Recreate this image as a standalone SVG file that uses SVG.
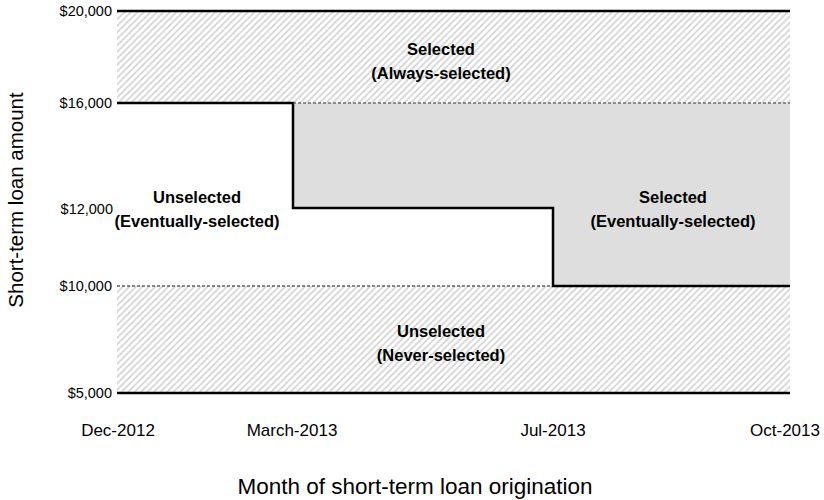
<svg xmlns="http://www.w3.org/2000/svg" width="824" height="500" viewBox="0 0 824 500">
<defs>
<pattern id="hatch" patternUnits="userSpaceOnUse" width="6.5" height="6.5">
<path d="M-1,1 L1,-1 M0,6.5 L6.5,0 M5.5,7.5 L7.5,5.5" stroke="#d2d2d2" stroke-width="1.7"/>
</pattern>
</defs>
<style>
text{font-family:"Liberation Sans",Arial,sans-serif;fill:#000}
.tick{font-size:14.5px;text-anchor:end}
.xt{font-size:17px;text-anchor:middle}
.lbl{font-size:16.5px;font-weight:bold;text-anchor:middle}
.title{font-size:22.5px;text-anchor:middle}
.ytitle{font-size:20.5px;text-anchor:middle}
.thick{stroke:#000;stroke-width:2.5;fill:none}
.dash{stroke:#333;stroke-width:1;stroke-dasharray:3,2;fill:none}
</style>
<rect width="824" height="500" fill="#fff"/>
<g id="regions">
<rect id="always" x="117" y="11" width="673" height="92" fill="url(#hatch)"/>
<rect id="never" x="117" y="286" width="673" height="107" fill="url(#hatch)"/>
<path id="eventual" d="M293,103 H790 V286 H553 V208 H293 Z" fill="#dedede"/>
</g>
<g id="connectors">
<line class="thick" x1="117" y1="11" x2="790" y2="11"/>
<line class="thick" x1="117" y1="393" x2="790" y2="393"/>
<path class="thick" d="M117,103 H293 V208 H553 V286 H790"/>
<line class="dash" x1="293" y1="103" x2="790" y2="103" stroke="#555"/>
<line class="dash" x1="117" y1="286" x2="553" y2="286" style="stroke:#111"/>
</g>
<g id="yticks">
<text class="tick" x="112" y="16">$20,000</text>
<text class="tick" x="112" y="108">$16,000</text>
<text class="tick" x="113" y="214">$12,000</text>
<text class="tick" x="112" y="291">$10,000</text>
<text class="tick" x="112" y="398">$5,000</text>
</g>
<g id="xticks">
<text class="xt" x="118" y="436">Dec-2012</text>
<text class="xt" x="292" y="436">March-2013</text>
<text class="xt" x="553" y="436">Jul-2013</text>
<text class="xt" x="785" y="436">Oct-2013</text>
</g>
<g id="label-always">
<text class="lbl" x="441" y="55">Selected</text>
<text class="lbl" x="441" y="79">(Always-selected)</text>
</g>
<g id="label-unsel-eventual">
<text class="lbl" x="197" y="203">Unselected</text>
<text class="lbl" x="197" y="227">(Eventually-selected)</text>
</g>
<g id="label-sel-eventual">
<text class="lbl" x="673" y="203">Selected</text>
<text class="lbl" x="673" y="227">(Eventually-selected)</text>
</g>
<g id="label-never">
<text class="lbl" x="441" y="337">Unselected</text>
<text class="lbl" x="441" y="361">(Never-selected)</text>
</g>
<text class="title" x="415" y="494">Month of short-term loan origination</text>
<text class="ytitle" x="0" y="0" transform="translate(23,200) rotate(-90)">Short-term loan amount</text>
</svg>
